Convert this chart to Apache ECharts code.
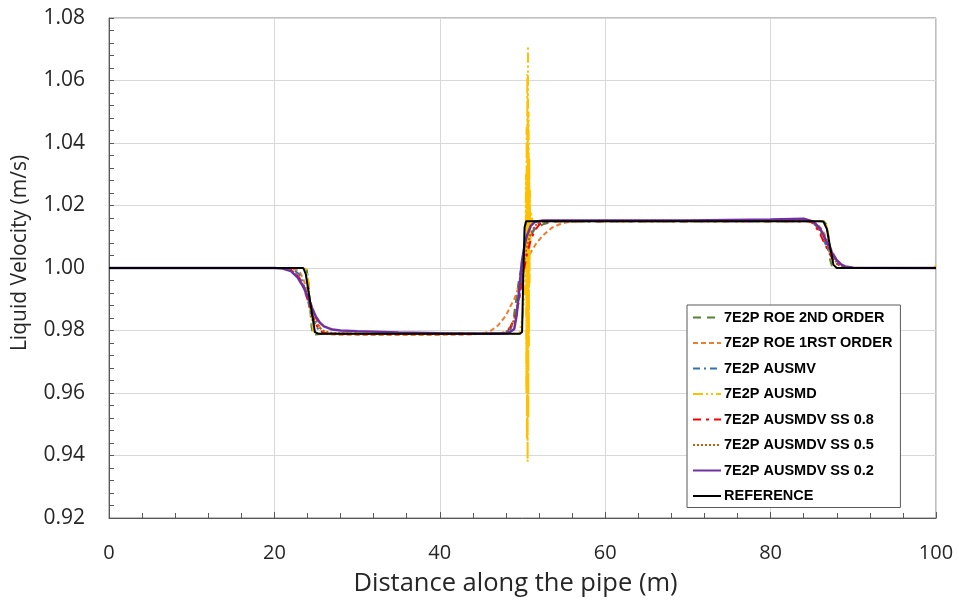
<!DOCTYPE html>
<html>
<head>
<meta charset="utf-8">
<script src="https://cdn.jsdelivr.net/npm/echarts@6/dist/echarts.min.js"></script>
<style>html,body{margin:0;padding:0;background:#fff}#c{width:959px;height:603px}</style>
</head>
<body>
<div id="c"></div>
<script>
// ---- data (distance in m, velocity in m/s) ----
const roe2X = [0, 23.5, 23.9, 24.1, 24.3, 24.5, 24.7, 25.0, 26, 47, 48, 48.5, 48.9, 49.5, 50.0, 50.5, 51.0, 51.5, 52.5, 53.5, 54.5, 86.4, 86.6, 86.8, 87.0, 87.2, 87.4, 87.6, 100];
const roe2Y = [1.000, 1.000, 0.9995, 0.996, 0.988, 0.981, 0.9785, 0.9787, 0.979, 0.979, 0.9792, 0.980, 0.9834, 0.995, 1.002, 1.007, 1.0105, 1.0125, 1.014, 1.0148, 1.015, 1.015, 1.0148, 1.0138, 1.010, 1.0026, 1.0008, 1.000, 1.000];

const roe1X = [0, 21.5, 22.5, 23, 23.5, 24, 24.5, 25, 25.5, 26, 26.5, 27, 30, 40, 44, 45, 46, 47, 48, 48.5, 49, 49.7, 50.5, 51, 51.7, 52.5, 53.5, 54.5, 55.5, 57, 60, 80, 85, 85.5, 86, 86.5, 87, 87.5, 88, 88.5, 89, 90, 100];
const roe1Y = [1.000, 1.000, 0.9995, 0.999, 0.9965, 0.9925, 0.988, 0.984, 0.981, 0.9795, 0.979, 0.9787, 0.9786, 0.9786, 0.9787, 0.979, 0.9796, 0.9815, 0.9848, 0.9876, 0.990, 0.995, 1.0015, 1.005, 1.008, 1.0105, 1.0128, 1.014, 1.0147, 1.015, 1.0151, 1.0151, 1.015, 1.0143, 1.013, 1.011, 1.008, 1.005, 1.0025, 1.001, 1.0004, 1.000, 1.000];

const ausmvX = [0, 22, 23, 23.5, 24, 24.5, 25, 25.5, 26, 47.5, 48, 48.5, 49, 49.5, 50, 50.5, 51, 51.5, 52, 53, 84.5, 85, 85.5, 86, 86.5, 87, 87.5, 88, 88.5, 89, 90, 100];
const ausmvY = [1.000, 1.000, 0.998, 0.995, 0.990, 0.985, 0.9815, 0.9798, 0.979, 0.979, 0.9795, 0.9805, 0.983, 0.989, 0.997, 1.005, 1.0105, 1.013, 1.0143, 1.015, 1.015, 1.0146, 1.0135, 1.0112, 1.0085, 1.0055, 1.003, 1.0014, 1.0005, 1.0001, 1.000, 1.000];

const ausmdX = [0, 23.8, 24.1, 24.4, 24.7, 25.0, 49.6, 50.0, 50.35, 50.42, 50.46, 50.5, 50.54, 50.58, 50.62, 50.66, 50.7, 50.74, 50.78, 50.82, 50.86, 50.9, 50.94, 51.0, 51.2, 86.6, 86.9, 87.2, 87.5, 87.8, 99.8, 100];
const ausmdY = [1.000, 1.000, 0.996, 0.986, 0.980, 0.979, 0.979, 0.984, 0.995, 1.030, 0.960, 1.045, 0.945, 1.062, 0.938, 1.071, 0.952, 1.050, 0.975, 1.035, 0.995, 1.025, 1.008, 1.018, 1.015, 1.015, 1.012, 1.005, 1.001, 1.000, 1.000, 1.001];

const ss08X = [0, 21, 22, 23, 23.5, 24, 24.5, 25, 25.5, 26, 27, 47, 48, 48.5, 49, 49.5, 50, 50.5, 51, 51.5, 52, 52.5, 53.5, 84.5, 85, 85.5, 86, 86.5, 87, 87.5, 88, 88.5, 89, 90, 100];
const ss08Y = [1.000, 1.000, 0.9995, 0.997, 0.994, 0.990, 0.9855, 0.982, 0.980, 0.9792, 0.979, 0.979, 0.9795, 0.981, 0.9835, 0.9885, 0.997, 1.004, 1.009, 1.012, 1.0138, 1.0147, 1.015, 1.015, 1.0145, 1.013, 1.0108, 1.008, 1.0052, 1.003, 1.0014, 1.0005, 1.0001, 1.000, 1.000];

const ss05X = [0, 21.5, 22.5, 23.5, 24, 24.5, 25, 25.5, 26, 27, 30, 47.5, 48, 48.5, 49, 49.5, 50, 50.5, 51, 51.5, 52, 53, 84.5, 85, 85.5, 86, 86.5, 87, 87.5, 88, 88.5, 89, 90, 100];
const ss05Y = [1.000, 1.000, 0.9985, 0.9945, 0.991, 0.9865, 0.983, 0.9808, 0.9798, 0.9792, 0.979, 0.979, 0.9795, 0.981, 0.9835, 0.990, 0.999, 1.0065, 1.011, 1.0135, 1.0146, 1.0151, 1.0151, 1.0147, 1.0137, 1.0117, 1.009, 1.006, 1.0035, 1.0017, 1.0007, 1.0002, 1.000, 1.000];

const ss02X = [0, 20, 21, 22, 22.8, 23.5, 24.0, 24.5, 25.0, 25.5, 26, 27, 28, 30, 35, 40, 45, 48, 48.5, 49.0, 49.3, 49.6, 49.9, 50.2, 50.5, 51.0, 51.5, 52.5, 60, 70, 80, 84, 85, 85.5, 86, 86.5, 87, 87.5, 88, 88.5, 89, 90, 100];
const ss02Y = [1.000, 1.000, 0.9998, 0.999, 0.997, 0.994, 0.991, 0.9875, 0.9845, 0.9825, 0.9813, 0.9803, 0.980, 0.9798, 0.9794, 0.9791, 0.979, 0.9791, 0.9795, 0.9805, 0.985, 0.993, 1.0015, 1.0065, 1.010, 1.0135, 1.0148, 1.0152, 1.0152, 1.0152, 1.0155, 1.0158, 1.015, 1.014, 1.0125, 1.010, 1.007, 1.0045, 1.0025, 1.0012, 1.0005, 1.0001, 1.000];

const refX = [0, 23.5, 23.8, 24.9, 25.3, 49.7, 49.95, 50.1, 50.25, 50.45, 86.0, 86.4, 86.8, 87.6, 88.0, 100];
const refY = [1.000, 1.000, 0.998, 0.9795, 0.979, 0.979, 0.9795, 0.998, 1.013, 1.015, 1.015, 1.0148, 1.0125, 1.001, 1.000, 1.000];

const seriesNames = ['7E2P ROE 2ND ORDER', '7E2P ROE 1RST ORDER', '7E2P AUSMV', '7E2P AUSMD', '7E2P AUSMDV SS 0.8', '7E2P AUSMDV SS 0.5', '7E2P AUSMDV SS 0.2', 'REFERENCE'];
const xTicks = [0, 20, 40, 60, 80, 100];
const yTicks = [0.92, 0.94, 0.96, 0.98, 1.00, 1.02, 1.04, 1.06, 1.08];

// ---- chart ----
const pairs = (xs, ys) => xs.map((x, i) => [x, ys[i]]);
const dataSets = [[roe2X, roe2Y], [roe1X, roe1Y], [ausmvX, ausmvY], [ausmdX, ausmdY], [ss08X, ss08Y], [ss05X, ss05Y], [ss02X, ss02Y], [refX, refY]];
const styles = [
  {color: '#548235', width: 2, type: [8, 6]},
  {color: '#ED7D31', width: 2, type: [5, 3]},
  {color: '#2E75B6', width: 2, type: [7, 4, 2, 4]},
  {color: '#FFC000', width: 2, type: [10, 3, 2, 3, 2, 3]},
  {color: '#FF0000', width: 2, type: [8, 5, 3, 5]},
  {color: '#C55A11', width: 2, type: [2, 2]},
  {color: '#7030A0', width: 2.5, type: 'solid'},
  {color: '#000000', width: 2, type: 'solid'}
];
const FONT = '"Open Sans", "Liberation Sans", sans-serif';
const chart = echarts.init(document.getElementById('c'), null, {renderer: 'canvas'});
chart.setOption({
  animation: false,
  backgroundColor: '#fff',
  grid: {left: 109, right: 23, top: 18, bottom: 85, show: true, borderColor: '#7f7f7f', borderWidth: 1},
  legend: {
    orient: 'vertical', left: 687, top: 305,
    data: seriesNames,
    selectedMode: false,
    backgroundColor: '#fff', borderColor: '#595959', borderWidth: 1,
    padding: [5, 8, 4, 5],
    itemWidth: 28, itemHeight: 14, itemGap: 10.5,
    itemStyle: {opacity: 0},
    textStyle: {fontFamily: '"Liberation Sans", Arial, sans-serif', fontWeight: 'bold', fontSize: 14.5, color: '#000', padding: [0, 0, 0, -2]}
  },
  xAxis: {
    type: 'value', min: xTicks[0], max: xTicks[xTicks.length - 1], interval: 20,
    name: 'Distance along the pipe (m)', nameLocation: 'middle', nameGap: 53,
    nameTextStyle: {fontFamily: FONT, fontSize: 25.5, color: '#262626', padding: [0, 14, 0, 0]},
    axisLine: {show: true, onZero: false, lineStyle: {color: '#595959', width: 1}},
    axisTick: {show: true, inside: true, length: 6, lineStyle: {color: '#595959'}},
    minorTick: {show: true, splitNumber: 5, length: 5, lineStyle: {color: '#595959'}},
    splitLine: {show: true, lineStyle: {color: '#d9d9d9', width: 1}},
    axisLabel: {fontFamily: FONT, fontSize: 20, color: '#262626', margin: 25}
  },
  yAxis: {
    type: 'value', min: yTicks[0], max: yTicks[yTicks.length - 1], interval: 0.02,
    name: 'Liquid Velocity (m/s)', nameLocation: 'middle', nameGap: 78, nameRotate: 90,
    nameTextStyle: {fontFamily: FONT, fontSize: 21, color: '#262626', padding: [0, 0, 0, 30]},
    axisLine: {show: true, onZero: false, lineStyle: {color: '#595959', width: 1}},
    axisTick: {show: true, inside: true, length: 5, lineStyle: {color: '#595959'}},
    minorTick: {show: true, splitNumber: 5, length: 5, lineStyle: {color: '#595959'}},
    splitLine: {show: true, lineStyle: {color: '#d9d9d9', width: 1}},
    axisLabel: {fontFamily: FONT, fontSize: 21, color: '#262626', margin: 24, formatter: v => v.toFixed(2)}
  },
  series: seriesNames.map((n, i) => ({
    name: n, type: 'line', symbol: 'none', smooth: false,
    data: pairs(dataSets[i][0], dataSets[i][1]),
    lineStyle: styles[i], itemStyle: {color: styles[i].color},
    z: 2 + i
  }))
});
</script>
</body>
</html>
